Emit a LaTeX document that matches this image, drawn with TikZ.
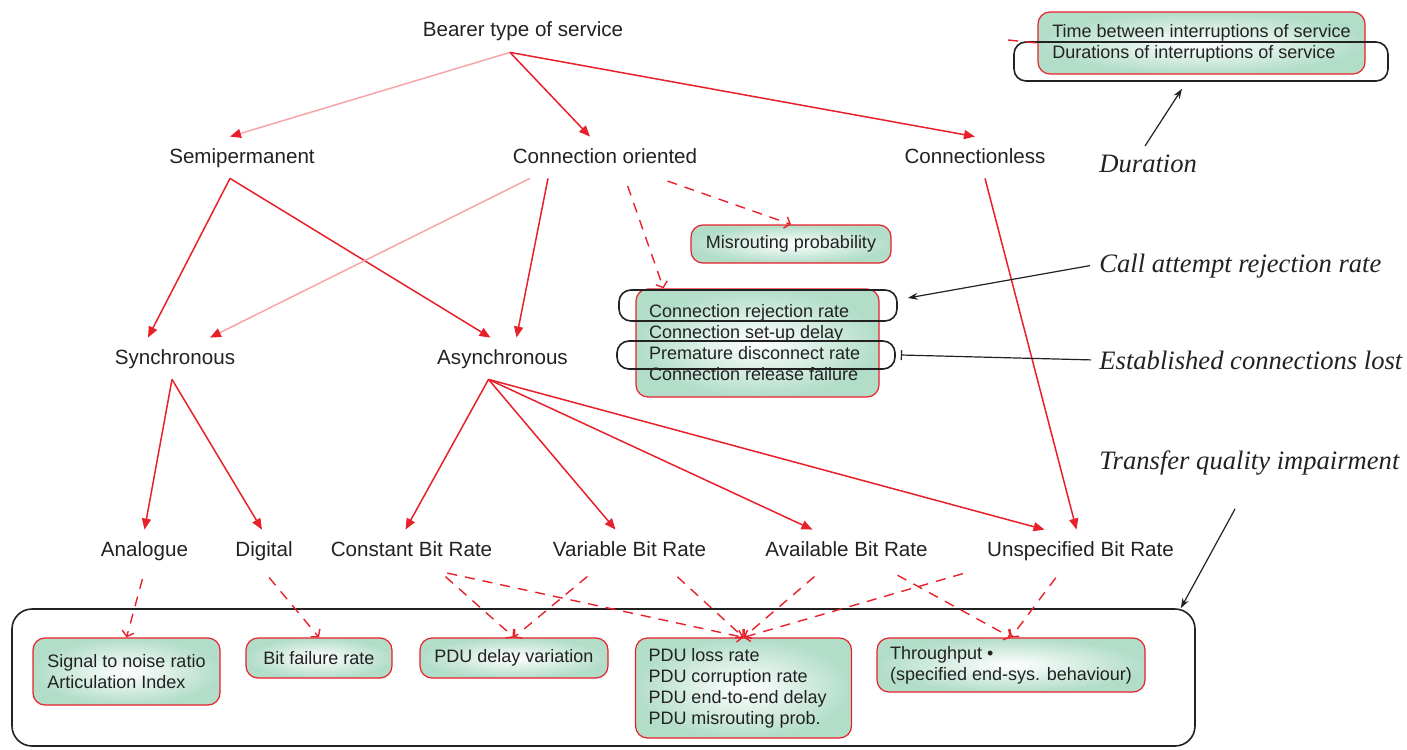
\documentclass[tikz,border=0pt]{standalone}
\usepackage{fontspec}
\setmainfont{Liberation Sans}
\newfontfamily\serifital{Liberation Serif}
\usetikzlibrary{arrows.meta}

\definecolor{linkred}{HTML}{E8202A}
\definecolor{boxgreen}{HTML}{B2DDC9}
\definecolor{ink}{HTML}{222222}

\begin{document}
\begin{tikzpicture}[x=0.5pt,y=-0.5pt,
  lbl/.style={font=\fontsize{10.3}{12}\selectfont, text=ink, text height=8pt,
    text depth=2.5pt, inner xsep=0pt, inner ysep=5pt, anchor=base},
  note/.style={font=\serifital\itshape\fontsize{13.3}{15}\selectfont, text=ink,
    inner sep=0pt, anchor=base west},
  gbox/.style={draw=linkred, line width=0.6pt, rounded corners=6pt,
    inner color=white, outer color=boxgreen, text=ink, align=left,
    font=\fontsize{9}{10.5}\selectfont, inner xsep=6.5pt, inner ysep=0pt},
  bracket/.style={draw=ink, line width=0.8pt, rounded corners=6pt, inner sep=0pt},
  redarrow/.style={draw=linkred, line width=0.75pt,
    -{Triangle[length=5.5pt,width=4.5pt,color=linkred]}},
  faint/.style={draw=linkred!40},
  reddash/.style={draw=linkred, line width=0.7pt, dash pattern=on 5pt off 4pt,
    shorten <=4pt, -{Straight Barb[length=2.5pt,width=6pt]}},
  blackarrow/.style={draw=ink, line width=0.6pt, -{Stealth[length=5pt,width=3.5pt]}},
]
\useasboundingbox (0,0) rectangle (1407,749);

% ---- service classification labels ----
\node[lbl] (bearer) at (523,37)  {Bearer type of service};
\node[lbl] (semi)   at (242,163) {Semipermanent};
\node[lbl] (conn)   at (605,163) {Connection oriented};
\node[lbl] (cl)     at (975,163) {Connectionless};
\node[lbl] (sync)   at (175,364) {Synchronous};
\node[lbl] (async)  at (502.5,364) {Asynchronous};
\node[lbl] (ana)    at (144.5,556) {Analogue};
\node[lbl] (dig)    at (264,556) {Digital};
\node[lbl] (cbr)    at (411.5,556) {Constant Bit Rate};
\node[lbl] (vbr)    at (629.5,556) {Variable Bit Rate};
\node[lbl] (abr)    at (846.5,556) {Available Bit Rate};
\node[lbl] (ubr)    at (1080.5,556) {Unspecified Bit Rate};

% ---- parameter boxes ----
\node[gbox, minimum width=163.5pt, minimum height=31pt]
  (tim) at (1201.5,43) {Time between interruptions of service\\Durations of interruptions of service};
\node[gbox, minimum width=100pt, minimum height=19pt]
  (mis) at (791,244) {Misrouting probability};
\node[gbox, minimum width=120.5pt, minimum height=54pt]
  (con) at (757.5,343) {\makebox[108.5pt][l]{Connection rejection rate}\\Connection set-up delay\\Premature disconnect rate\\Connection release failure};
\node[gbox, minimum width=93.5pt, minimum height=33.5pt]
  (snr) at (126.5,671.5) {Signal to noise ratio\\Articulation Index};
\node[gbox, minimum width=73pt, minimum height=20pt]
  (bfr) at (319,658) {Bit failure rate};
\node[gbox, minimum width=94pt, minimum height=20pt]
  (pdv) at (514,658) {PDU delay variation};
\node[gbox, minimum width=107.5pt, minimum height=50pt]
  (pdu) at (743.5,688) {\makebox[95pt][l]{PDU loss rate}\\PDU corruption rate\\PDU end-to-end delay\\PDU misrouting prob.};
\node[gbox, minimum width=134pt, minimum height=27pt]
  (thr) at (1011,665) {Throughput \textbullet\\(specified end-sys. behaviour)};

% ---- grouping outlines ----
\node[bracket, minimum width=187pt, minimum height=19.5pt] (dur) at (1201,61.5) {};
\node[bracket, minimum width=139pt, minimum height=15.5pt] (rej) at (758,305.5) {};
\node[bracket, minimum width=139pt, minimum height=14pt]   (pre) at (756,355) {};
\node[bracket, rounded corners=10pt, minimum width=591.5pt, minimum height=68.5pt] (big) at (603.5,677.5) {};

% ---- impairment categories ----
\node[note] (durlbl) at (1099,172) {Duration};
\node[note] (calllbl) at (1099,272) {Call attempt rejection rate};
\node[note] (estlbl) at (1099,369) {Established connections lost};
\node[note] (trlbl) at (1099,469) {Transfer quality impairment};

% ---- classification tree ----
\draw[redarrow, faint] ([xshift=-6.5pt]bearer.south) -- ([xshift=-6pt]semi.north);
\draw[redarrow] ([xshift=-6.5pt]bearer.south) -- ([xshift=-7.5pt]conn.north);
\draw[redarrow] ([xshift=-6.5pt]bearer.south) -- (cl.north);
\draw[redarrow] ([xshift=-6pt]semi.south) -- ([xshift=-13.5pt]sync.north);
\draw[redarrow] ([xshift=-6pt]semi.south) -- ([xshift=-6pt]async.north);
\draw[redarrow] ([xshift=-28.5pt]conn.south) -- ([xshift=7pt]async.north);
\draw[redarrow, faint] ([xshift=-37.5pt]conn.south) -- ([xshift=17.5pt]sync.north);
\draw[redarrow] ([xshift=5pt]cl.south) -- ([xshift=-2pt]ubr.north);
\draw[redarrow] ([xshift=-1.5pt]sync.south) -- (ana.north);
\draw[redarrow] ([xshift=-1.5pt]sync.south) -- ([xshift=-1pt]dig.north);
\draw[redarrow] ([xshift=-7pt]async.south) -- ([xshift=-3pt]cbr.north);
\draw[redarrow] ([xshift=-7pt]async.south) -- ([xshift=-7pt]vbr.north);
\draw[redarrow] ([xshift=-7pt]async.south) -- ([xshift=-17pt]abr.north);
\draw[redarrow] ([xshift=-7pt]async.south) -- ([xshift=-18pt]ubr.north);

% ---- service type to parameter links ----
\draw[reddash] ([xshift=27.5pt]conn.south) -- (mis.north);
\draw[reddash] ([xshift=10pt]conn.south) -- ([xshift=-47pt]con.north);
\coordinate (timstub) at (1008,40);
\draw[reddash, shorten <=0pt, -] (timstub) -- (tim.west);
\draw[reddash] (ana.south) -- (snr.north);
\draw[reddash] (dig.south) -- (bfr.north);
\draw[reddash] ([xshift=14pt]cbr.south) -- (pdv.north);
\draw[reddash] ([xshift=-18pt]vbr.south) -- (pdv.north);
\draw[reddash] ([xshift=14pt]cbr.south) -- (pdu.north);
\draw[reddash] ([xshift=21pt]vbr.south) -- (pdu.north);
\draw[reddash] ([xshift=-13pt]abr.south) -- (pdu.north);
\draw[reddash] ([xshift=-55pt]ubr.south) -- (pdu.north);
\draw[reddash] ([xshift=22pt]abr.south) -- (thr.north);
\draw[reddash] ([xshift=-10pt]ubr.south) -- (thr.north);

% ---- category pointers ----
\draw[blackarrow] ([xshift=23pt,yshift=4pt]durlbl.north west) -- ([xshift=-9.5pt,yshift=-3.5pt]dur.south);
\draw[blackarrow] ([xshift=-4.5pt]calllbl.west) -- ([xshift=5pt,yshift=3.75pt]rej.east);
\draw[draw=ink, line width=0.6pt, -{Bar[width=5pt]}] ([xshift=-4pt]estlbl.west) -- ([xshift=2.5pt]pre.east);
\draw[blackarrow] ([xshift=68pt,yshift=-20pt]trlbl.base west) -- ([xshift=-7.5pt]big.north east);
\end{tikzpicture}
\end{document}
